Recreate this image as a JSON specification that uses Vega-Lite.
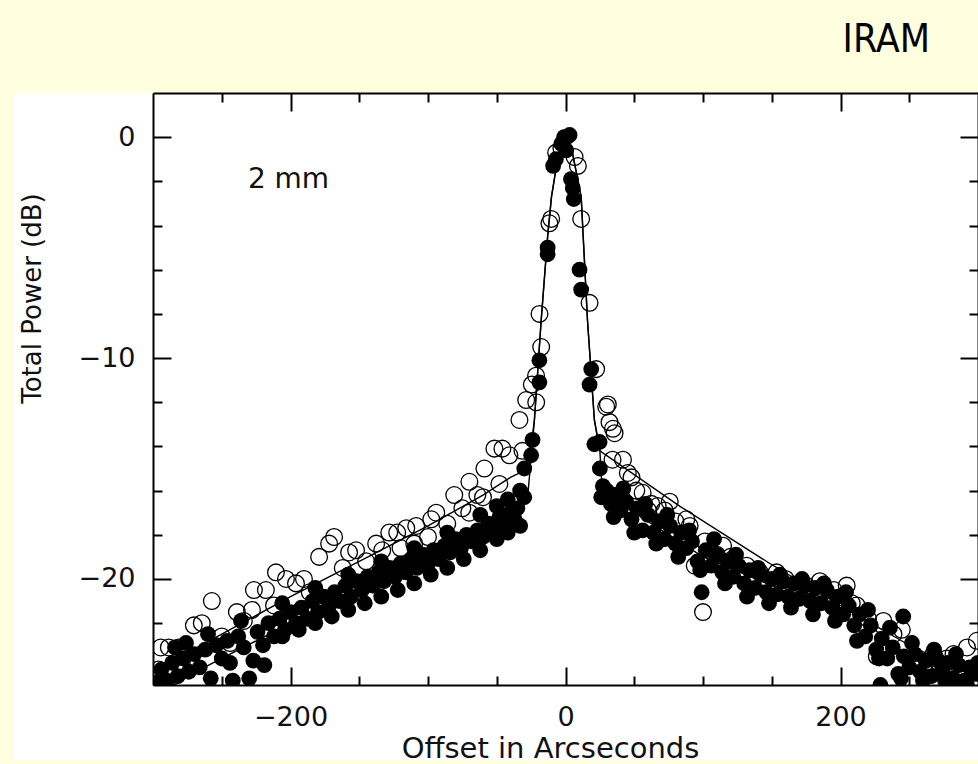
{
  "$schema": "https://vega.github.io/schema/vega-lite/v6.json",
  "autosize": {"type": "none"},
  "padding": {"left": 153, "top": 93, "right": 0, "bottom": 79},
  "width": 825,
  "height": 592,
  "background": "#FFFFE0",
  "config": {"view": {"stroke": null}, "font": "DejaVu Sans"},
  "title": {"text": "IRAM", "anchor": "end", "frame": "group", "fontSize": 39, "font": "DejaVu Sans Condensed, DejaVu Sans", "fontWeight": "normal", "color": "#000000", "baseline": "alphabetic", "offset": 1, "dx": -48},
  "datasets": {
    "open": [
      {"x":-6.8,"y":-0.7},{"x":-3,"y":-0.5},{"x":6.6,"y":-0.9},{"x":9,"y":-1.3},
      {"x":-10.4,"y":-3.7},{"x":-11.7,"y":-3.9},{"x":11.4,"y":-3.7},
      {"x":-18.9,"y":-8.0},{"x":-17.7,"y":-9.5},{"x":17.5,"y":-7.5},{"x":22.3,"y":-10.5},
      {"x":-21.4,"y":-10.8},{"x":-24.5,"y":-11.2},{"x":-28.6,"y":-11.9},{"x":-21.3,"y":-12.0},
      {"x":29.6,"y":-12.2},{"x":30.8,"y":-12.1},{"x":32,"y":-12.9},{"x":35.7,"y":-13.4},{"x":34.5,"y":-13.2},
      {"x":-33.5,"y":-12.8},{"x":-31.3,"y":-14.2},{"x":34.2,"y":-14.6},
      {"x":-51.7,"y":-14.1},{"x":-45.9,"y":-14.1},{"x":-40.8,"y":-14.4},{"x":-59.0,"y":-15.0},{"x":-48.1,"y":-15.7},
      {"x":-69.9,"y":-15.6},{"x":-64.1,"y":-16.2},{"x":-80.9,"y":-16.2},{"x":-75.0,"y":-16.8},{"x":-94.0,"y":-17.0},
      {"x":-97.6,"y":-17.3},{"x":-108.6,"y":-17.6},{"x":-115.8,"y":-17.7},{"x":-122.4,"y":-17.9},{"x":-128.2,"y":-17.9},
      {"x":-137.7,"y":-18.4},{"x":-133.3,"y":-18.7},{"x":-152.3,"y":-18.7},{"x":-157.4,"y":-18.8},{"x":-168.3,"y":-18.1},
      {"x":-171.9,"y":-18.4},{"x":-179.2,"y":-19.0},{"x":-190.2,"y":-20.0},{"x":-196.0,"y":-20.2},{"x":-203.3,"y":-20.0},
      {"x":-210.6,"y":-19.7},{"x":-217.9,"y":-20.5},{"x":-226.6,"y":-20.5},{"x":-257.2,"y":-21.0},{"x":-264.5,"y":-22.0},
      {"x":-270.3,"y":-22.1},{"x":-239.0,"y":-21.5},{"x":-233.9,"y":-21.9},{"x":-281.2,"y":-23.1},{"x":-288.5,"y":-23.1},
      {"x":-294.4,"y":-23.1},{"x":-279.1,"y":-23.8},{"x":-295.8,"y":-24.1},
      {"x":-250,"y":-22.6},{"x":-244,"y":-22.9},{"x":-212,"y":-21.2},{"x":-145,"y":-19.2},{"x":-110,"y":-18.4},
      {"x":-86,"y":-17.5},{"x":-60,"y":-16.3},{"x":-186,"y":-20.6},{"x":-298,"y":-24.5},{"x":-285,"y":-24.4},
      {"x":-120,"y":-18.6},{"x":-100,"y":-18.1},{"x":-70,"y":-17.0},{"x":-162,"y":-19.5},{"x":-228,"y":-21.4},
      {"x":41.8,"y":-14.6},{"x":45.3,"y":-15.2},{"x":48,"y":-15.4},{"x":51.5,"y":-16.0},{"x":56.1,"y":-16.1},
      {"x":62.4,"y":-16.6},{"x":67,"y":-16.7},{"x":75.8,"y":-16.5},{"x":87.9,"y":-17.3},{"x":101.3,"y":-18.3},
      {"x":94,"y":-19.4},{"x":100,"y":-21.5},{"x":114.6,"y":-18.5},{"x":131.7,"y":-19.4},{"x":141.3,"y":-19.7},
      {"x":72.1,"y":-16.9},{"x":90.3,"y":-17.6},{"x":153.5,"y":-19.7},{"x":165.6,"y":-20.8},{"x":204.5,"y":-20.3},
      {"x":208.2,"y":-21.1},{"x":211.8,"y":-21.2},{"x":231.2,"y":-21.9},{"x":238.5,"y":-22.5},{"x":244.6,"y":-22.3},
      {"x":226.4,"y":-23.5},{"x":262.8,"y":-24.3},{"x":267.6,"y":-23.4},{"x":272.5,"y":-24.0},{"x":277.4,"y":-23.6},
      {"x":282.2,"y":-23.4},{"x":292,"y":-23.1},{"x":299.2,"y":-22.8},
      {"x":120,"y":-19.0},{"x":160,"y":-20.0},{"x":175,"y":-20.3},{"x":185,"y":-20.1},{"x":195,"y":-20.5},
      {"x":220,"y":-21.8},{"x":255,"y":-23.6},{"x":287,"y":-24.1},{"x":60,"y":-16.9},{"x":80,"y":-17.4},{"x":110,"y":-18.9}
    ],
    "filled": [
      {"x":-298,"y":-24.7},{"x":-294,"y":-24.1},{"x":-290,"y":-24.6},{"x":-286,"y":-23.8},{"x":-282,"y":-24.4},
      {"x":-278,"y":-23.6},{"x":-274,"y":-24.2},{"x":-270,"y":-23.4},{"x":-266,"y":-24.0},{"x":-262,"y":-23.2},
      {"x":-258,"y":-24.5},{"x":-254,"y":-23.0},{"x":-250,"y":-23.6},{"x":-246,"y":-22.8},{"x":-242,"y":-24.6},
      {"x":-238,"y":-22.6},{"x":-234,"y":-23.1},{"x":-230,"y":-24.5},{"x":-227,"y":-23.7},{"x":-224,"y":-22.4},
      {"x":-219,"y":-23.9},{"x":-216,"y":-22.0},{"x":-212,"y":-22.6},{"x":-208,"y":-21.8},{"x":-204,"y":-22.3},
      {"x":-200,"y":-21.5},{"x":-196,"y":-22.0},{"x":-192,"y":-21.3},{"x":-188,"y":-21.8},{"x":-184,"y":-21.0},
      {"x":-180,"y":-21.5},{"x":-176,"y":-20.8},{"x":-172,"y":-21.2},{"x":-168,"y":-20.6},{"x":-164,"y":-21.0},
      {"x":-160,"y":-20.3},{"x":-156,"y":-20.8},{"x":-152,"y":-20.1},{"x":-148,"y":-20.5},{"x":-144,"y":-19.9},
      {"x":-140,"y":-20.3},{"x":-136,"y":-19.7},{"x":-132,"y":-20.1},{"x":-128,"y":-19.5},{"x":-124,"y":-19.9},
      {"x":-120,"y":-19.3},{"x":-116,"y":-19.7},{"x":-112,"y":-19.1},{"x":-108,"y":-19.5},{"x":-104,"y":-18.9},
      {"x":-100,"y":-19.3},{"x":-96,"y":-18.7},{"x":-92,"y":-19.1},{"x":-88,"y":-18.5},{"x":-84,"y":-18.8},
      {"x":-80,"y":-18.2},{"x":-76,"y":-18.6},{"x":-72,"y":-18.0},{"x":-68,"y":-18.3},{"x":-64,"y":-17.8},
      {"x":-60,"y":-18.1},{"x":-56,"y":-17.5},{"x":-52,"y":-17.8},{"x":-48,"y":-17.2},{"x":-44,"y":-17.5},
      {"x":-40,"y":-17.0},{"x":-37,"y":-17.3},{"x":-35,"y":-16.8},
      {"x":-284,"y":-23.1},{"x":-276,"y":-22.9},{"x":-260,"y":-22.5},{"x":-244,"y":-23.8},{"x":-236,"y":-21.9},
      {"x":-220,"y":-23.0},{"x":-206,"y":-21.1},{"x":-206,"y":-22.6},{"x":-194,"y":-22.3},{"x":-182,"y":-20.4},
      {"x":-182,"y":-22.0},{"x":-170,"y":-21.7},{"x":-158,"y":-19.8},{"x":-158,"y":-21.4},{"x":-146,"y":-21.1},
      {"x":-134,"y":-19.2},{"x":-134,"y":-20.8},{"x":-122,"y":-20.5},{"x":-110,"y":-18.6},{"x":-110,"y":-20.2},
      {"x":-98,"y":-19.8},{"x":-86,"y":-17.9},{"x":-86,"y":-19.5},{"x":-74,"y":-19.1},{"x":-62,"y":-17.1},
      {"x":-62,"y":-18.7},{"x":-50,"y":-16.7},{"x":-50,"y":-18.2},{"x":-42,"y":-16.4},{"x":-42,"y":-17.9},
      {"x":-33,"y":-17.6},{"x":-33,"y":-16.0},
      {"x":-30,"y":-16.3},{"x":-30,"y":-15.0},{"x":-25,"y":-14.4},{"x":-24,"y":-13.7},{"x":-19,"y":-11.1},
      {"x":-19,"y":-10.1},{"x":-13,"y":-5.3},{"x":-13,"y":-5.0},{"x":-9,"y":-1.3},{"x":-7,"y":-1.0},
      {"x":-3,"y":-0.3},{"x":-1,"y":0},{"x":1,"y":0},{"x":3,"y":0.1},{"x":0.5,"y":-0.6},
      {"x":4,"y":-1.9},{"x":5.3,"y":-2.3},{"x":6,"y":-2.8},{"x":10.2,"y":-6.0},{"x":11.4,"y":-6.9},
      {"x":17.5,"y":-11.2},{"x":18.7,"y":-10.5},{"x":21,"y":-13.9},{"x":24.8,"y":-13.8},{"x":25,"y":-15.0},
      {"x":27.2,"y":-15.8},{"x":26,"y":-16.3},
      {"x":30,"y":-16.0},{"x":33,"y":-16.6},{"x":36,"y":-16.2},{"x":40,"y":-16.9},{"x":44,"y":-16.5},
      {"x":48,"y":-17.3},{"x":52,"y":-16.8},{"x":56,"y":-17.8},{"x":60,"y":-17.1},{"x":64,"y":-17.9},
      {"x":68,"y":-17.4},{"x":72,"y":-18.2},{"x":76,"y":-17.6},{"x":80,"y":-18.4},{"x":84,"y":-17.9},
      {"x":88,"y":-18.6},{"x":92,"y":-18.3},{"x":96,"y":-19.2},{"x":99,"y":-20.6},{"x":102,"y":-18.7},
      {"x":106,"y":-19.4},{"x":110,"y":-18.9},{"x":114,"y":-19.7},{"x":118,"y":-19.2},{"x":122,"y":-19.9},
      {"x":126,"y":-19.4},{"x":130,"y":-20.2},{"x":134,"y":-19.6},{"x":138,"y":-20.4},{"x":142,"y":-19.8},
      {"x":146,"y":-20.6},{"x":150,"y":-20.0},{"x":154,"y":-20.7},{"x":158,"y":-20.1},{"x":162,"y":-20.8},
      {"x":166,"y":-20.2},{"x":170,"y":-20.9},{"x":174,"y":-20.3},{"x":178,"y":-21.0},{"x":182,"y":-20.4},
      {"x":186,"y":-21.1},{"x":190,"y":-20.5},{"x":194,"y":-21.3},{"x":198,"y":-20.8},{"x":202,"y":-21.6},
      {"x":206,"y":-21.2},{"x":210,"y":-22.1},{"x":214,"y":-21.6},{"x":218,"y":-22.6},{"x":222,"y":-22.1},
      {"x":226,"y":-23.2},{"x":229,"y":-24.8},{"x":230,"y":-22.7},{"x":234,"y":-23.6},{"x":238,"y":-23.1},
      {"x":242,"y":-24.3},{"x":245.6,"y":-21.7},{"x":246,"y":-23.5},{"x":250,"y":-24.0},{"x":254,"y":-23.4},
      {"x":258,"y":-24.2},{"x":262,"y":-23.7},{"x":266,"y":-24.4},{"x":270,"y":-23.6},{"x":274,"y":-24.1},
      {"x":278,"y":-23.8},{"x":282,"y":-24.5},{"x":286,"y":-23.9},{"x":290,"y":-24.6},{"x":294,"y":-24.0},{"x":298,"y":-24.3},
      {"x":35,"y":-17.2},{"x":42,"y":-15.9},{"x":50,"y":-17.9},{"x":58,"y":-16.6},{"x":66,"y":-18.4},
      {"x":74,"y":-17.1},{"x":82,"y":-19.0},{"x":90,"y":-17.8},{"x":98,"y":-19.6},{"x":108,"y":-18.2},
      {"x":116,"y":-20.2},{"x":124,"y":-18.9},{"x":132,"y":-20.8},{"x":140,"y":-19.5},{"x":148,"y":-21.1},
      {"x":156,"y":-19.8},{"x":164,"y":-21.3},{"x":172,"y":-20.0},{"x":180,"y":-21.6},{"x":188,"y":-20.2},
      {"x":196,"y":-21.9},{"x":204,"y":-20.6},{"x":212,"y":-22.8},{"x":220,"y":-21.4},{"x":228,"y":-23.6},
      {"x":236,"y":-22.2},{"x":244,"y":-24.5},{"x":252,"y":-22.9},{"x":260,"y":-24.6},{"x":268,"y":-23.2},
      {"x":276,"y":-24.6},{"x":284,"y":-23.4},{"x":292,"y":-24.8},{"x":300,"y":-23.8}
    ],
    "fitOpen": [
      {"x":-300,"y":-24.2},{"x":-250,"y":-22.5},{"x":-200,"y":-20.8},{"x":-150,"y":-19.2},{"x":-100,"y":-17.6},
      {"x":-60,"y":-16.2},{"x":-40,"y":-15.4},{"x":-27,"y":-15.0},{"x":-22.6,"y":-12.8},{"x":-17.7,"y":-8.3},
      {"x":-13,"y":-4.5},{"x":-10.2,"y":-2.7},{"x":-5,"y":-0.7},{"x":0,"y":0},{"x":5,"y":-0.7},
      {"x":11.4,"y":-2.7},{"x":16,"y":-8.3},{"x":21,"y":-12.8},{"x":25,"y":-14.2},{"x":83,"y":-16.7},
      {"x":148.6,"y":-19.3},{"x":200,"y":-21.2},{"x":250,"y":-23.0},{"x":300,"y":-24.5}
    ],
    "fitFilled": [
      {"x":-300,"y":-25.2},{"x":-250,"y":-23.6},{"x":-200,"y":-22.0},{"x":-150,"y":-20.5},{"x":-100,"y":-19.1},
      {"x":-50,"y":-17.6},{"x":-35,"y":-17.2},{"x":-27.7,"y":-16.4},{"x":-22.6,"y":-12.8},{"x":-17.7,"y":-8.3},
      {"x":-13,"y":-4.5},{"x":-10.2,"y":-2.7},{"x":-5,"y":-0.7},{"x":0,"y":0},{"x":5,"y":-0.7},
      {"x":11.4,"y":-2.7},{"x":16,"y":-8.3},{"x":21,"y":-12.8},{"x":25,"y":-14.2},{"x":26.5,"y":-15.8},
      {"x":40,"y":-16.6},{"x":100,"y":-19.0},{"x":150,"y":-20.3},{"x":200,"y":-21.0},{"x":250,"y":-23.6},{"x":300,"y":-24.6}
    ]
  },
  "resolve": {"axis": {"x": "independent", "y": "independent"}},
  "layer": [
    {
      "data": {"values": [{}]},
      "mark": {"type": "rect", "fill": "white", "clip": false},
      "encoding": {
        "x": {"datum": -401, "type": "quantitative", "scale": {"domain": [-300, 300], "nice": false, "zero": false},
          "axis": {"orient": "bottom", "values": [-200, 0, 200], "format": "d", "ticks": false, "tickSize": 0, "domain": true, "domainColor": "black", "domainWidth": 2, "grid": false,
            "labelFontSize": 27, "labelFont": "DejaVu Sans", "labelColor": "#111111", "labelPadding": 19, "labelFlush": false, "labelBaseline": "top",
            "title": "Offset in Arcseconds", "titleFontSize": 29, "titleFont": "DejaVu Sans", "titleFontWeight": "normal", "titleColor": "#111111",
            "titleX": 397, "titleY": 72, "titleBaseline": "alphabetic", "titleAlign": "center", "zindex": 2}},
        "x2": {"datum": 300},
        "y": {"datum": 2, "type": "quantitative", "scale": {"domain": [-24.8, 2], "nice": false, "zero": false},
          "axis": {"orient": "left", "values": [-20, -10, 0], "format": "d", "ticks": false, "tickSize": 0, "domain": true, "domainColor": "black", "domainWidth": 2, "grid": false,
            "labelFontSize": 27, "labelFont": "DejaVu Sans", "labelColor": "#111111", "labelPadding": 18, "labelFlush": false,
            "title": "Total Power (dB)", "titleFontSize": 26, "titleFont": "DejaVu Sans", "titleFontWeight": "normal", "titleColor": "#111111",
            "titleAngle": -90, "titleX": -113, "titleY": 205, "titleBaseline": "alphabetic", "titleAlign": "center", "zindex": 2}},
        "y2": {"datum": -28.2}
      }
    },
    {
      "data": {"name": "open"},
      "mark": {"type": "point", "shape": "circle", "filled": false, "stroke": "black", "strokeWidth": 1.3, "size": 280, "opacity": 1, "clip": true},
      "encoding": {
        "x": {"field": "x", "type": "quantitative", "scale": {"domain": [-300, 300], "nice": false, "zero": false},
          "axis": {"orient": "bottom", "values": [-200, 0, 200], "tickSize": -18, "tickWidth": 2, "tickColor": "black", "labels": false, "domain": false, "grid": false, "title": null, "zindex": 2}},
        "y": {"field": "y", "type": "quantitative", "scale": {"domain": [-24.8, 2], "nice": false, "zero": false},
          "axis": {"orient": "left", "values": [-20, -10, 0], "tickSize": -18, "tickWidth": 2, "tickColor": "black", "labels": false, "domain": false, "grid": false, "title": null, "zindex": 2}}
      }
    },
    {
      "data": {"name": "filled"},
      "mark": {"type": "circle", "fill": "black", "size": 250, "opacity": 1, "clip": true},
      "encoding": {
        "x": {"field": "x", "type": "quantitative", "scale": {"domain": [-300, 300], "nice": false, "zero": false},
          "axis": {"orient": "bottom", "values": [-250, -150, -100, -50, 50, 100, 150, 250], "tickSize": -9, "tickWidth": 2, "tickColor": "black", "labels": false, "domain": false, "grid": false, "title": null, "zindex": 2}},
        "y": {"field": "y", "type": "quantitative", "scale": {"domain": [-24.8, 2], "nice": false, "zero": false},
          "axis": {"orient": "left", "values": [-24, -22, -18, -16, -14, -12, -8, -6, -4, -2], "tickSize": -9, "tickWidth": 2, "tickColor": "black", "labels": false, "domain": false, "grid": false, "title": null, "zindex": 2}}
      }
    },
    {
      "data": {"name": "fitOpen"},
      "mark": {"type": "line", "color": "black", "strokeWidth": 1.4, "clip": true},
      "encoding": {
        "x": {"field": "x", "type": "quantitative", "scale": {"domain": [-300, 300], "nice": false, "zero": false},
          "axis": {"orient": "top", "values": [-200, 0, 200], "tickSize": -18, "tickWidth": 2, "tickColor": "black", "labels": false, "domain": true, "domainColor": "black", "domainWidth": 2, "grid": false, "title": null, "zindex": 2}},
        "y": {"field": "y", "type": "quantitative", "scale": {"domain": [-24.8, 2], "nice": false, "zero": false},
          "axis": {"orient": "right", "values": [-20, -10, 0], "tickSize": -18, "tickWidth": 2, "tickColor": "black", "labels": false, "domain": true, "domainColor": "black", "domainWidth": 2, "grid": false, "title": null, "zindex": 2}}
      }
    },
    {
      "data": {"name": "fitFilled"},
      "mark": {"type": "line", "color": "black", "strokeWidth": 1.4, "clip": true},
      "encoding": {
        "x": {"field": "x", "type": "quantitative", "scale": {"domain": [-300, 300], "nice": false, "zero": false},
          "axis": {"orient": "top", "values": [-250, -150, -100, -50, 50, 100, 150, 250], "tickSize": -9, "tickWidth": 2, "tickColor": "black", "labels": false, "domain": false, "grid": false, "title": null, "zindex": 2}},
        "y": {"field": "y", "type": "quantitative", "scale": {"domain": [-24.8, 2], "nice": false, "zero": false},
          "axis": {"orient": "right", "values": [-24, -22, -18, -16, -14, -12, -8, -6, -4, -2], "tickSize": -9, "tickWidth": 2, "tickColor": "black", "labels": false, "domain": false, "grid": false, "title": null, "zindex": 2}}
      }
    },
    {
      "data": {"values": [{"label": "2 mm"}]},
      "mark": {"type": "text", "align": "left", "baseline": "alphabetic", "fontSize": 28, "font": "DejaVu Sans", "color": "#111111", "clip": false},
      "encoding": {
        "x": {"datum": -231, "type": "quantitative", "scale": {"domain": [-300, 300], "nice": false, "zero": false}, "axis": null},
        "y": {"datum": -2.31, "type": "quantitative", "scale": {"domain": [-24.8, 2], "nice": false, "zero": false}, "axis": null},
        "text": {"field": "label"}
      }
    }
  ]
}
